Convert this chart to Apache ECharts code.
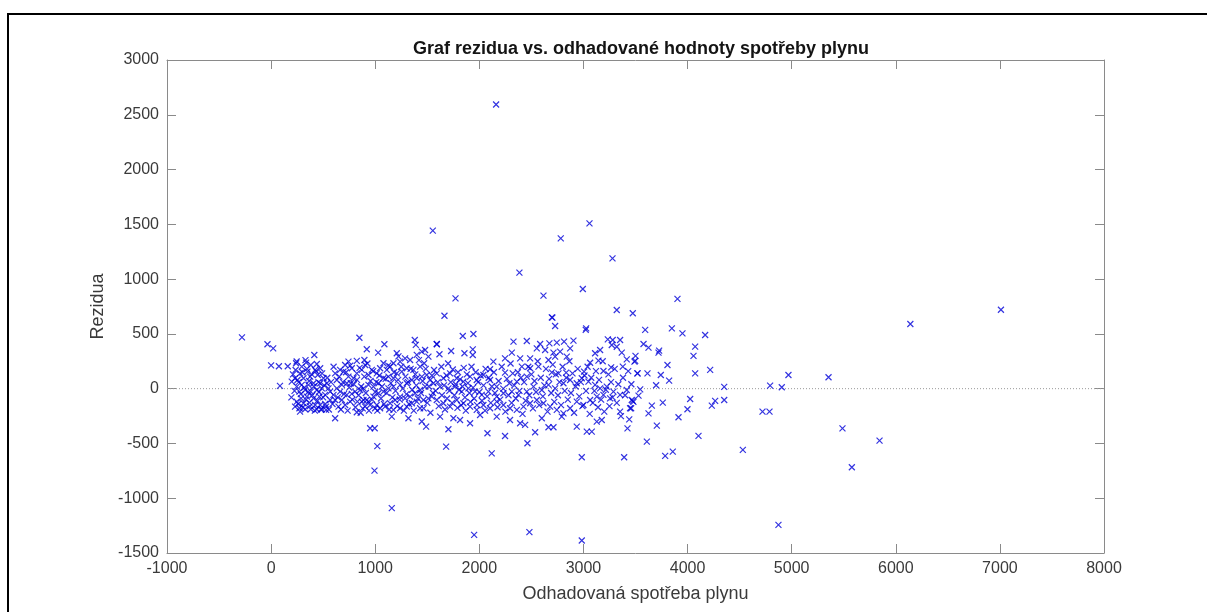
<!DOCTYPE html>
<html>
<head>
<meta charset="utf-8">
<title>Graf rezidua</title>
<script src="https://cdn.jsdelivr.net/npm/echarts@6/dist/echarts.min.js"></script>
<style>
  html, body { margin: 0; padding: 0; background: #ffffff; }
  #chart { width: 1207px; height: 612px; }
</style>
</head>
<body>
<div id="chart"></div>
<script>
// Residuals plotted against the fitted (estimated) gas consumption.
// Each entry: [fitted value, residual].

const lowFitted = [
  [-280, 468], [-35, 405], [20, 368], [0, 213], [75, 205], [160, 205], [245, 248],
  [330, 260], [415, 307], [85, 25], [195, -80], [615, -270], [823, -215], [860, -220],
  [951, -361], [995, -361], [1020, -525], [993, -748], [1159, -1091], [848, 465],
  [919, 360], [1088, 405], [1028, 329], [1380, 444], [1390, 400], [823, 253], [896, 262],
  [1207, 323], [1223, 295], [1592, 405]
];

const denseLeft = [
  [240, 232], [294, 201], [336, 238], [381, 216], [439, 225], [471, 186], [423, 171],
  [349, 155], [278, 140], [230, 95], [198, 64], [253, 79], [311, 95], [375, 110],
  [448, 125], [503, 95], [535, 49], [471, 49], [407, 49], [359, 34], [294, 34], [246, 19],
  [272, -27], [327, -12], [381, -27], [439, -12], [487, 3], [551, 3], [519, -57],
  [464, -73], [407, -88], [343, -73], [288, -88], [246, -118], [311, -133], [368, -127],
  [423, -149], [471, -149], [528, -164], [272, -179], [327, -188], [381, -188],
  [439, -188], [487, -188], [528, -194], [278, -209], [230, -164], [567, -103],
  [599, -57], [567, -27],
  [210, 130], [225, -20], [235, 170], [260, -140], [265, 60], [285, -50], [300, 150],
  [305, -170], [318, 10], [335, -100], [345, 180], [355, -30], [365, 70], [372, -160],
  [390, 130], [395, -60], [410, 20], [420, -200], [430, 160], [445, -110], [455, 60],
  [460, -30], [478, -190], [490, 140], [500, -80], [510, 30], [520, -140], [540, 100],
  [555, -190], [575, 60], [590, -140], [600, 200]
];

const denseMiddle = [
  [615, 140], [663, 171], [711, 216], [743, 247], [695, 155], [775, 186], [743, 110],
  [631, 79], [679, 34], [727, 49], [765, 49], [791, 95], [823, 140], [871, 171],
  [903, 216], [935, 125], [967, 171], [1015, 140], [1047, 186], [1079, 232], [1111, 171],
  [1143, 201], [1175, 232], [1239, 247], [1287, 277], [1335, 262], [1399, 308],
  [1447, 338], [1479, 353], [1511, 292], [1470, 232], [1431, 201], [1367, 171],
  [1303, 186], [1255, 155], [1207, 140], [1175, 95], [1127, 110], [1079, 95], [1031, 49],
  [983, 19], [935, 34], [887, 3], [855, -12], [807, -27], [775, -48], [727, -57],
  [663, -27], [631, 3], [615, -103], [679, -103], [711, -149], [647, -164], [759, -118],
  [829, -118], [887, -103], [935, -118], [983, -73], [1031, -42], [1079, -27], [1127, 3],
  [1175, 19], [1239, 34], [1303, 49], [1352, 79], [1399, 95], [1447, 110], [1495, 125],
  [1527, 79], [1479, 19], [1431, -12], [1383, -42], [1335, -73], [1287, -88],
  [1239, -73], [1191, -103], [1143, -133], [1095, -164], [1047, -179], [999, -179],
  [951, -149], [903, -164], [871, -118], [1175, -194], [1239, -179], [1303, -164],
  [1352, -133], [1399, -118], [1463, -103], [1511, -88], [1431, -179], [1319, -270],
  [1447, -300], [1489, -346], [1159, -255], [919, -103], [1015, -149],
  [640, -80], [655, 110], [670, -190], [690, 60], [700, -50], [720, 150], [735, -200],
  [750, 10], [760, 210], [780, -100], [795, 40], [810, -170], [825, 80], [840, -60],
  [850, 190], [865, 20], [880, -180], [895, 110], [910, -40], [925, 230], [940, -200],
  [955, 70], [970, -100], [980, 160], [1000, -30], [1010, 60], [1020, -200], [1040, 120],
  [1055, -90], [1065, 20], [1085, -140], [1100, 90], [1110, -40], [1125, 210],
  [1135, -190], [1150, 50], [1165, -80], [1180, 150], [1195, -20], [1210, -160],
  [1220, 80], [1235, -100], [1250, 200], [1265, 0], [1275, -200], [1290, 110],
  [1300, -50], [1315, 60], [1325, -140], [1340, 180], [1355, -10], [1370, -200],
  [1385, 130], [1395, 30], [1410, -90], [1420, 260], [1440, -40], [1455, 70],
  [1465, -180], [1485, 180], [1500, -130], [1515, 20], [1530, -220], [1545, 120],
  [1555, -40]
];

const denseRight = [
  [2728, 572], [3022, 536], [1841, 481], [1943, 499], [1591, 408], [2328, 429],
  [2456, 435], [2584, 408], [2673, 414], [2744, 420], [2814, 429], [2904, 438],
  [3234, 450], [3281, 444], [3352, 444], [1617, 314], [1729, 344], [1857, 323],
  [1937, 359], [1937, 307], [2552, 368], [2632, 353], [2712, 329], [2776, 338],
  [2872, 368], [2312, 329], [2247, 277], [2392, 277], [2488, 277], [2664, 262],
  [2728, 292], [2840, 292], [3112, 323], [3160, 353], [3272, 399], [3320, 383],
  [3368, 329], [3416, 268], [3490, 247], [3064, 237], [3144, 256], [3192, 161],
  [3266, 195], [3378, 201], [3519, 140], [2696, 149], [2760, 140], [2834, 146],
  [3006, 155], [2135, 247], [2103, 177], [2247, 146], [2321, 140], [2408, 201],
  [2488, 186], [2568, 201], [2456, 110], [2360, 64], [2289, 49], [2167, 19], [2103, 79],
  [2039, 125], [1975, 79], [1911, 110], [1847, 64], [1783, 95], [1719, 140], [1655, 95],
  [1591, 140], [1559, 49], [1623, 19], [1703, 3], [1767, 19], [1831, -27], [1895, 3],
  [1959, -27], [2023, -57], [2087, -27], [2167, -73], [2231, -42], [2312, -27],
  [2376, -57], [2456, -27], [2520, 19], [2600, -12], [2664, 34], [2728, 3], [2808, 49],
  [2872, 79], [2936, 49], [2984, 95], [3048, 64], [3112, 34], [3160, 3], [3224, 19],
  [3288, -27], [3352, -57], [3416, -12], [3464, -103], [3448, -179], [3352, -210],
  [3423, -362], [3391, -626], [2984, -626], [3256, -88], [3192, -57], [3128, -73],
  [3064, -103], [3000, -149], [2936, -118], [2872, -179], [2808, -225], [2744, -194],
  [2680, -164], [2616, -133], [2552, -103], [2488, -133], [2424, -164], [2360, -194],
  [2295, -179], [2231, -149], [2167, -118], [2103, -179], [2039, -149], [1975, -194],
  [1911, -164], [1847, -133], [1783, -103], [1719, -164], [1655, -133], [1591, -103],
  [1543, -73], [1751, -270], [1703, -370], [1681, -529], [1911, -316], [2078, -407],
  [2119, -590], [2247, -432], [2462, -498], [2536, -398], [2664, -352], [2712, -352],
  [2792, -255], [2936, -346], [3032, -392], [3080, -392], [3128, -301], [3176, -286],
  [2392, -316], [2440, -331], [2600, -270], [2295, -286], [2167, -255], [2007, -240],
  [1815, -286], [1623, -255],
  [1565, 170], [1580, -20], [1600, 60], [1610, -160], [1635, 200], [1640, -60],
  [1660, 30], [1670, -190], [1685, 120], [1690, -90], [1700, 230], [1712, -20],
  [1725, 60], [1738, -130], [1745, 175], [1760, -60], [1772, 40], [1790, -175],
  [1795, 150], [1805, -10], [1815, 85], [1825, -150], [1838, 20], [1850, 190],
  [1862, -80], [1870, -200], [1880, 130], [1890, 50], [1905, -40], [1915, -120],
  [1925, 200], [1940, 10], [1950, -90], [1965, 150], [1978, -150], [1988, 60],
  [2000, -30], [2012, 120], [2025, -110], [2040, 30], [2055, -200], [2060, 180],
  [2075, -70], [2090, 100], [2110, -130], [2120, 20], [2140, 150], [2150, -40],
  [2175, -170], [2185, 70], [2200, -100], [2215, 200], [2230, 0], [2250, -210],
  [2265, 90], [2280, -60],
  [2300, 230], [2310, -130], [2335, 30], [2350, -90], [2370, 150], [2385, -20],
  [2400, 100], [2415, -230], [2430, 60], [2445, -110], [2470, 200], [2480, -60],
  [2500, 130], [2515, -180], [2530, 70], [2545, -30], [2560, 250], [2575, -150],
  [2590, 100], [2610, -70], [2625, 30], [2640, 180], [2655, -210], [2670, 90],
  [2690, -40], [2705, 220], [2720, -120], [2735, 130], [2755, -60], [2770, 60],
  [2785, -150], [2800, 200], [2820, -20], [2835, 100], [2850, -100], [2865, 250],
  [2880, -40], [2895, 140], [2910, -220], [2925, 20], [2945, 180], [2960, -70],
  [2975, 60], [2990, -160], [3010, 120], [3025, -20], [3040, 200], [3060, -230],
  [3075, 100], [3090, -130], [3105, -20], [3120, 160], [3140, -170], [3150, 80],
  [3170, -100], [3185, 250], [3200, -210], [3215, -10], [3240, 130], [3250, -160],
  [3265, 60], [3280, -80], [3300, 180], [3320, -130], [3335, 40], [3360, -250],
  [3380, 100], [3400, -60], [3430, 160], [3440, -280], [3460, 40], [3480, -120],
  [3500, 300]
];

const highFitted = [
  [3903, 819], [3474, 688], [3593, 536], [3849, 551], [3951, 505], [4169, 490],
  [3577, 408], [3625, 375], [3727, 347], [3721, 329], [4073, 384], [4057, 299],
  [3497, 253], [3807, 216], [3519, 140], [3615, 140], [3743, 125], [3823, 73],
  [4073, 140], [4217, 171], [3698, 31], [3545, -6], [3529, -63], [3474, -112],
  [3458, -179], [3657, -155], [3625, -225], [3762, -127], [4025, -94], [3999, -188],
  [3913, -261], [3705, -337], [3609, -483], [4105, -431], [3785, -614], [3858, -574],
  [4265, -112], [4233, -155], [4352, -103], [4352, 16], [4531, -559], [4720, -210],
  [4787, -210], [4793, 28], [4905, 13], [4969, 125], [5354, 104], [5488, -362],
  [5578, -717], [5844, -474], [6140, 590], [7010, 720]
];

const outliers = [
  [2161, 2594], [1553, 1442], [3058, 1509], [2782, 1372], [3279, 1189], [2385, 1059],
  [2994, 910], [1771, 824], [2616, 849], [1665, 666], [2702, 648], [2696, 651],
  [3320, 718], [3026, 551], [1950, -1335], [2481, -1310], [2984, -1386], [4873, -1243]
];

const xTicks = { min: -1000, max: 8000, step: 1000 };
const yTicks = { min: -1500, max: 3000, step: 500 };

const allPoints = [].concat(lowFitted, denseLeft, denseMiddle, denseRight, highFitted, outliers);

const chart = echarts.init(document.getElementById('chart'), null, { renderer: 'canvas' });

const axisGray = '#8a8a8a';
const textGray = '#3a3a3a';
const font = '"Liberation Sans", Arial, Helvetica, sans-serif';

function boxAxis(range, position, showLabels, extra) {
  return Object.assign({
    type: 'value',
    position: position,
    min: range.min,
    max: range.max,
    interval: range.step,
    splitLine: { show: false },
    axisLine: { show: true, onZero: false, lineStyle: { color: axisGray, width: 1 } },
    axisTick: { show: true, inside: true, length: 9, lineStyle: { color: axisGray, width: 1 } },
    axisLabel: {
      show: showLabels, color: textGray, fontSize: 16, fontFamily: font, margin: 8,
      formatter: function (v) { return String(v); }
    }
  }, extra || {});
}

chart.setOption({
  animation: false,
  backgroundColor: '#ffffff',
  title: {
    text: 'Graf rezidua vs. odhadované hodnoty spotřeby plynu',
    left: 636,
    textAlign: 'center',
    top: 35,
    textStyle: { fontFamily: font, fontSize: 18, fontWeight: 'bold', color: '#141414' }
  },
  graphic: [{
    type: 'rect',
    shape: { x: 8, y: 14, width: 1400, height: 800 },
    style: { fill: 'none', stroke: '#000000', lineWidth: 2 },
    silent: true,
    z: 100
  }],
  grid: { left: 167, right: 103, top: 60, bottom: 59, containLabel: false },
  xAxis: [
    boxAxis(xTicks, 'bottom', true, {
      name: 'Odhadovaná spotřeba plynu',
      nameLocation: 'middle',
      nameGap: 32,
      nameTextStyle: { color: textGray, fontSize: 18, fontFamily: font }
    }),
    boxAxis(xTicks, 'top', false)
  ],
  yAxis: [
    boxAxis(yTicks, 'left', true, {
      name: 'Rezidua',
      nameLocation: 'middle',
      nameGap: 45,
      nameTextStyle: { color: textGray, fontSize: 18, fontFamily: font }
    }),
    boxAxis(yTicks, 'right', false)
  ],
  series: [
    {
      name: 'nula',
      type: 'line',
      data: [[xTicks.min, 0], [xTicks.max, 0]],
      symbol: 'none',
      silent: true,
      lineStyle: { color: '#9a9a9a', width: 1, type: [1, 2] },
      z: 1
    },
    {
      name: 'rezidua',
      type: 'scatter',
      data: allPoints,
      symbol: 'path://M0,0L10,10M10,0L0,10',
      symbolSize: 6,
      itemStyle: { color: 'transparent', borderColor: '#0000d8', borderWidth: 1.2 },
      z: 2
    }
  ]
});
</script>
</body>
</html>
